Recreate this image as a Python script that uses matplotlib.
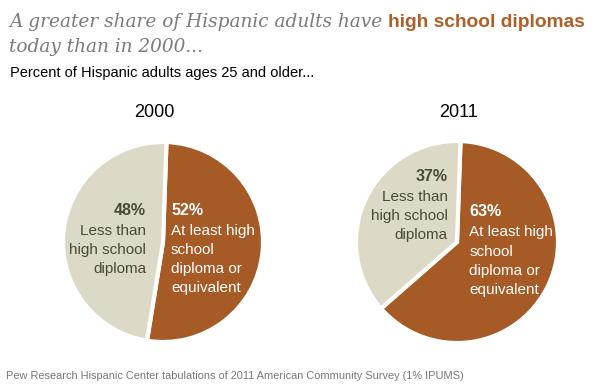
import matplotlib
matplotlib.use("Agg")
import matplotlib.pyplot as plt

# data
years = ["2000", "2011"]
at_least_hs = [52, 63]
less_than_hs = [48, 37]
label_less = "Less than\nhigh school\ndiploma"
label_hs = "At least high\nschool\ndiploma or\nequivalent"

title_plain = "A greater share of Hispanic adults have"
title_bold = "high school diplomas"
title_line2 = "today than in 2000..."
subtitle = "Percent of Hispanic adults ages 25 and older..."
source = "Pew Research Hispanic Center tabulations of 2011 American Community Survey (1% IPUMS)"

BROWN = "#A65A26"
BEIGE = "#DCD9C7"
DARK = "#4A4A3A"

W, H = 600, 387
fig = plt.figure(figsize=(W / 100, H / 100), dpi=100)

def fx(px):
  return px / W

def fy(py):
  return 1 - py / H

# title: plain italic part, then the bold part chained right after it
t1 = fig.text(fx(9), fy(27), title_plain, family="DejaVu Serif", style="italic",
              fontsize=13.3, color="#7a7a7a", va="baseline")
renderer = fig.canvas.get_renderer()
bb = t1.get_window_extent(renderer=renderer)
fig.text(bb.x1 / W + fx(6), fy(27), title_bold, family="Liberation Sans",
         weight="bold", fontsize=13.8, color="#B05E26", va="baseline")
fig.text(fx(9), fy(52), title_line2, family="DejaVu Serif", style="italic",
         fontsize=13.3, color="#7a7a7a", va="baseline")
fig.text(fx(10), fy(77), subtitle, family="Liberation Sans", fontsize=10.5,
         color="black", va="baseline")
fig.text(fx(6), fy(379), source, family="Liberation Sans", fontsize=7.9,
         color="#777777", va="baseline")

# pie layout: (center x, center y, radius) in pixels, title x, label anchors
centers = [(163, 242, 100), (457, 242, 101)]
title_x = [154, 458]
less_pos = [(-0.17, 0.32), (-0.09, 0.65)]
hs_pos = [(0.08, 0.32), (0.12, 0.30)]

for i, year in enumerate(years):
  cx, cy, r = centers[i]
  ax = fig.add_axes([fx(cx - r), fy(cy + r), 2 * r / W, 2 * r / H])
  ax.pie([at_least_hs[i], less_than_hs[i]], colors=[BROWN, BEIGE],
         startangle=88, counterclock=False, radius=1,
         wedgeprops=dict(edgecolor="white", linewidth=3))
  ax.set_xlim(-1, 1)
  ax.set_ylim(-1, 1)
  ax.set_aspect("auto")
  ax.axis("off")

  fig.text(fx(title_x[i]), fy(117), year, ha="center", va="baseline",
           family="Liberation Sans", fontsize=13, color="black")

  # less than high school label (right aligned)
  lx, ly = less_pos[i]
  ax.text(lx, ly, f"{less_than_hs[i]}%", ha="right", va="center",
          fontsize=11.5, weight="bold", color=DARK, family="Liberation Sans")
  ax.text(lx, ly - 0.135, label_less, ha="right", va="top", fontsize=11,
          color=DARK, family="Liberation Sans", linespacing=1.47)

  # at least high school label (left aligned)
  hx, hy = hs_pos[i]
  ax.text(hx, hy, f"{at_least_hs[i]}%", ha="left", va="center",
          fontsize=11.5, weight="bold", color="white", family="Liberation Sans")
  ax.text(hx, hy - 0.135, label_hs, ha="left", va="top", fontsize=11,
          color="white", family="Liberation Sans", linespacing=1.47)

fig.savefig("out.png", dpi=100)
